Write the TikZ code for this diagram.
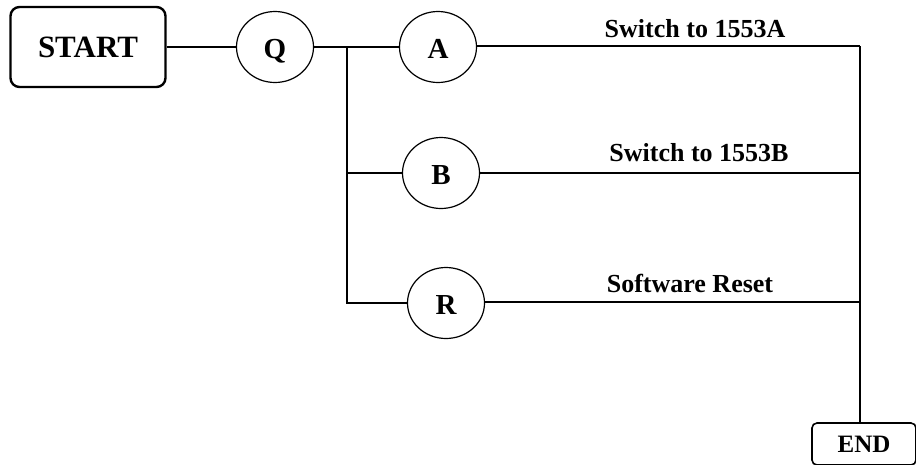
\documentclass[tikz,border=0pt]{standalone}
\usepackage{fontspec}
\setmainfont{Liberation Serif}
\usetikzlibrary{shapes.geometric}
\begin{document}
\begin{tikzpicture}[x=1pt,y=-1pt,
  startbox/.style={draw,line width=2.4pt,rounded corners=9pt,minimum width=155pt,minimum height=80pt,inner sep=0pt,text height=21pt,text depth=0pt,font=\fontsize{31}{31}\selectfont\bfseries},
  endbox/.style={draw,line width=1.6pt,rounded corners=5pt,minimum width=104pt,minimum height=42pt,inner sep=0pt,text height=17pt,text depth=0pt,font=\fontsize{25}{25}\selectfont\bfseries},
  state/.style={draw,ellipse,line width=1.2pt,minimum width=77pt,minimum height=71pt,inner sep=0pt,text height=23pt,text depth=0pt,font=\fontsize{29}{29}\selectfont\bfseries},
  wire/.style={line width=1.3pt},
  lbl/.style={anchor=base,inner sep=0pt,font=\fontsize{26}{26}\selectfont\bfseries}
]
\useasboundingbox (0,0) rectangle (916,464);
\node[startbox] (start) at (88,47) {START};
\node[state] (q) at (275,47) {Q};
\node[state] (a) at (438,47) {A};
\node[state] (b) at (441,173) {B};
\node[state] (r) at (446,303) {R};
\node[endbox] (end) at (864,444) {END};
\coordinate (bustop) at (347,47);
\coordinate (busb) at (347,173);
\coordinate (busr) at (347,303);
\coordinate (ca) at (860,46);
\coordinate (cb) at (860,173);
\coordinate (cr) at (860,302);
\draw[wire] (start.east) -- (q.west);
\draw[wire] (q.east) -- (a.west);
\draw[wire] (bustop) -- (busr) -- (r.west);
\draw[wire] (busb) -- (b.west);
\draw[wire] (a.east |- ca) -- (ca);
\draw[wire] (b.east) -- (cb);
\draw[wire] (r.east |- cr) -- (cr);
\draw[wire] (ca) -- (end.north -| ca);
\node[lbl] (la) at (695,37) {Switch to 1553A};
\node[lbl] (lb) at (699,161) {Switch to 1553B};
\node[lbl] (lr) at (690,292) {Software Reset};
\end{tikzpicture}
\end{document}
